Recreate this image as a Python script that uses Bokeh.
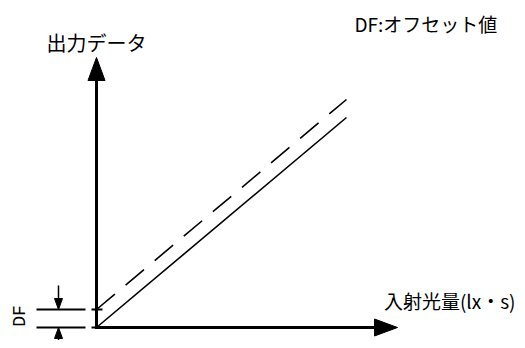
from bokeh.plotting import figure
from bokeh.models import Range1d
from bokeh.core.properties import value
from bokeh.embed import file_html
from bokeh.resources import INLINE
import math

# ---- data (schematic; units = picture pixels) ----
exposure = [0, 250]              # incident light amount (x)
output_signal = [0, 210]         # output data without offset (solid)
output_with_offset = [18, 228]   # output data with offset DF (dashed)
df_offset = 18                   # DF: offset value

x_axis_tip = 301
y_axis_tip = 270

label_y_axis = "出力データ"
label_x_axis = "入射光量(lx・s)"
label_note = "DF:オフセット値"
label_df = "DF"

# ---- figure ----
W, H = 517, 340
X0, Y0 = 96, 13   # origin offset inside the figure (left, bottom)
p = figure(width=W, height=H, output_backend="svg", toolbar_location=None,
           x_range=Range1d(-X0, W - X0), y_range=Range1d(-Y0, H - Y0),
           min_border=0, min_border_left=0, min_border_right=0,
           min_border_top=0, min_border_bottom=0)
p.axis.visible = False
p.grid.visible = False
p.outline_line_color = None
p.background_fill_color = "white"
p.border_fill_color = "white"

# axes (L shape) with filled arrow heads
head_len, head_half = 23, 8.5
p.line([0, 0, x_axis_tip - head_len + 2], [y_axis_tip - head_len + 2, 0, 0],
       line_color="black", line_width=3, line_join="miter")
p.patches(
    xs=[[0, -head_half, head_half],
        [x_axis_tip, x_axis_tip - head_len, x_axis_tip - head_len]],
    ys=[[y_axis_tip, y_axis_tip - head_len, y_axis_tip - head_len],
        [0, head_half, -head_half]],
    fill_color="black", line_color="black", line_width=1)

# characteristic lines
p.line(exposure, output_signal, line_color="black", line_width=1.6)
p.line(exposure, output_with_offset, line_color="black", line_width=1.6,
       line_dash="24 14")

# DF dimension marks
p.multi_line(xs=[[-60, -11], [-5, 6], [-60, -11], [-5, 0]],
             ys=[[df_offset, df_offset], [df_offset, df_offset], [0, 0], [0, 0]],
             line_color="black", line_width=2)
ax = -38
sm_len, sm_half = 11, 4
p.multi_line(xs=[[ax, ax], [ax, ax]],
             ys=[[df_offset + 24, df_offset + sm_len], [-30, -sm_len]],
             line_color="black", line_width=1.5)
p.patches(xs=[[ax, ax - sm_half, ax + sm_half], [ax, ax - sm_half, ax + sm_half]],
          ys=[[df_offset, df_offset + sm_len, df_offset + sm_len], [0, -sm_len, -sm_len]],
          fill_color="black", line_color="black", line_width=1)

# texts
jp = value("Noto Sans CJK JP")
p.text(x=[0], y=[y_axis_tip + 15], text=[label_y_axis], text_font=jp,
       text_font_size=value("20px"), text_align="center", text_baseline="middle",
       text_color="black")
p.text(x=[W - X0 - 2], y=[27], text=[label_x_axis], text_font=jp,
       text_font_size=value("19px"), text_align="right", text_baseline="middle",
       text_color="black")
p.text(x=[258], y=[304], text=[label_note], text_font=jp,
       text_font_size=value("19px"), text_align="left", text_baseline="middle",
       text_color="black")
p.text(x=[-77], y=[df_offset / 2 + 2.5], text=[label_df],
       text_font=value("Liberation Mono"),
       text_font_size=value("18px"), text_align="center", text_baseline="middle",
       angle=math.pi / 2, text_color="black")

open("out.html", "w").write(file_html(p, INLINE))
